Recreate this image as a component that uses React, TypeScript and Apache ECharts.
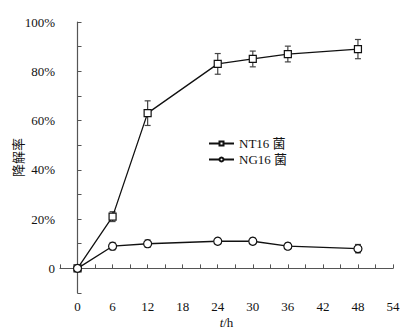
import React, { useEffect, useRef } from "react";
import * as echarts from "echarts";

const hours = [0, 6, 12, 24, 30, 36, 48];
const nt16 = [0, 21, 63, 83, 85, 87, 89];
const nt16Err = [0.5, 2, 5, 4.2, 3.2, 3.2, 3.9];
const ng16 = [0, 9, 10, 11, 11, 9, 8];
const ng16Err = [0.5, 1.5, 1.5, 1.2, 1.3, 1.3, 1.7];
const seriesNames = ["NT16 菌", "NG16 菌"];

const FONT = "'Liberation Serif', 'Noto Sans CJK SC', serif";

function errData(vals: number[], errs: number[]) {
  return hours.map((h, i) => [h, vals[i] - errs[i], vals[i] + errs[i]]);
}

function renderErr(params: any, api: any) {
  const x = api.value(0);
  const lo = api.coord([x, api.value(1)]);
  const hi = api.coord([x, api.value(2)]);
  const w = 3;
  const style = { stroke: "#444", lineWidth: 1.2 };
  return {
    type: "group",
    children: [
      { type: "line", shape: { x1: hi[0], y1: hi[1], x2: lo[0], y2: lo[1] }, style },
      { type: "line", shape: { x1: hi[0] - w, y1: hi[1], x2: hi[0] + w, y2: hi[1] }, style },
      { type: "line", shape: { x1: lo[0] - w, y1: lo[1], x2: lo[0] + w, y2: lo[1] }, style },
    ],
  };
}

export default function App() {
  const ref = useRef<HTMLDivElement>(null);
  useEffect(() => {
    const chart = echarts.init(ref.current!, null, { renderer: "svg" });
    chart.setOption({
      animation: false,
      backgroundColor: "#fff",
      grid: { left: 60, right: 16, top: 22, bottom: 43, containLabel: false, outerBoundsMode: "none" },
      legend: {
        data: seriesNames,
        orient: "vertical",
        left: 208,
        top: 137,
        padding: 0,
        itemWidth: 25,
        itemHeight: 5,
        itemGap: 3,
        textStyle: { fontFamily: FONT, fontSize: 13, color: "#111" },
      },
      xAxis: {
        type: "value",
        min: -3,
        max: 54,
        interval: 3,
        name: "{i|t}/h",
        nameLocation: "middle",
        nameGap: 23,
        nameMoveOverlap: false,
        nameTextStyle: {
          fontFamily: FONT,
          fontSize: 13,
          color: "#111",
          rich: { i: { fontStyle: "italic", fontFamily: FONT, fontSize: 13, color: "#111" } },
        },
        axisLine: { lineStyle: { color: "#555", width: 1.2 } },
        axisTick: { inside: true, length: 4, lineStyle: { color: "#555" } },
        axisLabel: {
          margin: 7,
          fontFamily: FONT,
          fontSize: 13,
          color: "#111",
          formatter: (v: number) => (v >= 0 && v % 6 === 0 ? String(v) : ""),
        },
        splitLine: { show: false },
      },
      yAxis: {
        type: "value",
        min: -10,
        max: 100,
        interval: 10,
        name: "降解率",
        nameLocation: "middle",
        nameGap: 36,
        nameMoveOverlap: false,
        nameTextStyle: { fontFamily: "'Noto Sans CJK SC', sans-serif", fontSize: 13, color: "#111" },
        axisLine: { show: true, lineStyle: { color: "#555", width: 1.2 } },
        axisTick: { show: true, inside: true, length: 4, lineStyle: { color: "#555" } },
        axisLabel: {
          margin: 5,
          fontFamily: FONT,
          fontSize: 13,
          color: "#111",
          formatter: (v: number) => (v === 0 ? "0" : v > 0 && v % 20 === 0 ? v + "%" : ""),
        },
        splitLine: { show: false },
      },
      series: [
        {
          type: "custom",
          renderItem: renderErr,
          data: errData(nt16, nt16Err),
          silent: true,
          z: 1,
        },
        {
          type: "custom",
          renderItem: renderErr,
          data: errData(ng16, ng16Err),
          silent: true,
          z: 1,
        },
        {
          name: seriesNames[0],
          type: "line",
          data: hours.map((h, i) => [h, nt16[i]]),
          symbol: "rect",
          symbolSize: 7,
          showAllSymbol: true,
          lineStyle: { color: "#111", width: 1.3 },
          itemStyle: { color: "#fff", borderColor: "#111", borderWidth: 1.2 },
          z: 3,
        },
        {
          name: seriesNames[1],
          type: "line",
          data: hours.map((h, i) => [h, ng16[i]]),
          symbol: "circle",
          symbolSize: 8,
          showAllSymbol: true,
          lineStyle: { color: "#111", width: 1.3 },
          itemStyle: { color: "#fff", borderColor: "#111", borderWidth: 1.2 },
          z: 3,
        },
      ],
    });
    return () => chart.dispose();
  }, []);
  return <div ref={ref} style={{ width: 409, height: 336, position: "absolute", left: 0, top: 0 }} />;
}
